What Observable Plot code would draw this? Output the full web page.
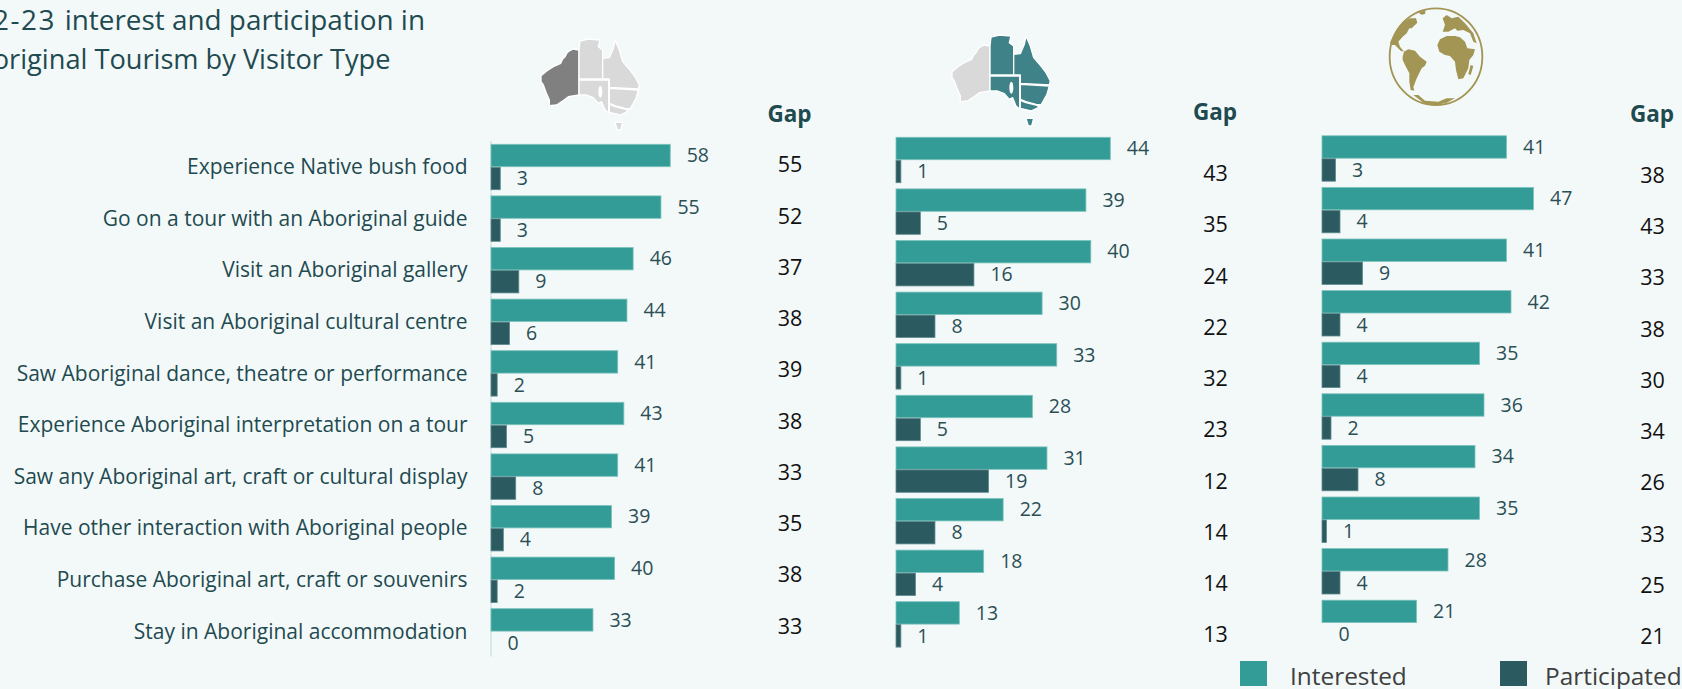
<!DOCTYPE html>
<html><head><meta charset="utf-8">
<script src="https://cdn.jsdelivr.net/npm/d3@7"></script>
<script src="https://cdn.jsdelivr.net/npm/@observablehq/plot@0.6"></script>
<style>
html,body{margin:0;padding:0;background:#f3f9f9;overflow:hidden}
#page{position:relative;width:1682px;height:689px;overflow:hidden;background:#f3f9f9;font-family:"Open Sans",sans-serif}
#page > svg{position:absolute;left:0;top:0;background:transparent!important;overflow:visible}
.abs{position:absolute;white-space:nowrap}
.gap{font-weight:700;font-size:22.5px;color:#1f4a50;transform:translate(-50%,-50%)}
.title{line-height:39px;color:#1f4a50;text-align:right}
.sw{width:27px;height:25px;top:661px}
.lg{top:675px;font-size:24.4px;color:#404040;transform:translateY(-50%)}
</style></head><body>
<div id="page"></div>
<script>
const activities = ["Experience Native bush food","Go on a tour with an Aboriginal guide","Visit an Aboriginal gallery","Visit an Aboriginal cultural centre","Saw Aboriginal dance, theatre or performance","Experience Aboriginal interpretation on a tour","Saw any Aboriginal art, craft or cultural display","Have other interaction with Aboriginal people","Purchase Aboriginal art, craft or souvenirs","Stay in Aboriginal accommodation"];
const series = ["Interested","Participated"];
const colors = ["#339c96","#2b5a60"];
const interested1 = [58,55,46,44,41,43,41,39,40,33];
const participated1 = [3,3,9,6,2,5,8,4,2,0];
const gap1 = [55,52,37,38,39,38,33,35,38,33];
const interested2 = [44,39,40,30,33,28,31,22,18,13];
const participated2 = [1,5,16,8,1,5,19,8,4,1];
const gap2 = [43,35,24,22,32,23,12,14,14,13];
const interested3 = [41,47,41,42,35,36,34,35,28,21];
const participated3 = [3,4,9,4,4,2,8,1,4,0];
const gap3 = [38,43,33,38,30,34,26,33,25,21];

const page = document.getElementById("page");
const W = 1682, H = 689;

function panel({interested, participated, gap, axisX, unit, gapX, top, gapDy, labels}) {
  const rows = activities.flatMap((a,i)=>[
    {a, s:series[0], v:interested[i]},
    {a, s:series[1], v:participated[i]}
  ]);
  const step = 51.6, pad = 0.1085, R = step*(10-pad);
  const marks = [
    Plot.barX(rows,{x:"v",y:"s",fy:"a",fill:"s",stroke:d=>d.s===series[0]?"#7cc2bd":"#5f8a8e",strokeWidth:d=>d.v?0.8:0,insetTop:0.3,insetBottom:0.3}),
    Plot.text(rows,{x:"v",y:"s",fy:"a",text:d=>String(d.v),dx:16,textAnchor:"start",lineAnchor:"middle",fill:"#2b4f55",fontSize:19.5}),
    ...activities.map((a,i)=>Plot.text([{a,g:gap[i]}],{fy:"a",text:d=>String(d.g),frameAnchor:"right",textAnchor:"middle",lineAnchor:"middle",dy:gapDy-i*0.36,fill:"#111",fontSize:21.5}))
  ];
  if (labels) {
    marks.unshift(Plot.ruleX([0],{stroke:"#d6eaec",strokeWidth:2,dx:-0.5,insetTop:-3,insetBottom:-2}));
    marks.push(Plot.axisFy({anchor:"left",tickSize:0,tickPadding:24,fontSize:21,fill:"#1f4a50",label:null}));
  }
  const svg = Plot.plot({
    width:W,height:H,
    marginLeft:axisX,marginRight:W-gapX,marginTop:top,marginBottom:H-top-R,
    x:{axis:null,domain:[0,(gapX-axisX)/unit]},
    y:{axis:null,domain:series,padding:0,round:false},
    fy:{axis:null,domain:activities,paddingInner:pad,paddingOuter:0,round:false},
    color:{domain:series,range:colors},
    style:{background:"transparent",fontFamily:"'Open Sans',sans-serif"},
    marks
  });
  page.appendChild(svg);
}

panel({interested:interested1,participated:participated1,gap:gap1,axisX:491,unit:3.09,gapX:789.5,top:144,gapDy:-2,labels:true});
panel({interested:interested2,participated:participated2,gap:gap2,axisX:896,unit:4.87,gapX:1215,top:137,gapDy:13.7});
panel({interested:interested3,participated:participated3,gap:gap3,axisX:1322,unit:4.5,gapX:1652,top:135.5,gapDy:17});

function add(cls,txt,css){const d=document.createElement("div");d.className="abs "+cls;if(txt)d.innerHTML=txt;Object.assign(d.style,css||{});page.appendChild(d);return d;}
add("title",'<span style="letter-spacing:1.5px">2022-23 </span>interest and participation in',{right:(W-425)+"px",top:"0",fontSize:"27.9px"});
add("title","Aboriginal Tourism by Visitor Type",{right:(W-390.5)+"px",top:"39px",fontSize:"27.2px"});
add("gap","Gap",{left:"789.5px",top:"113px"});
add("gap","Gap",{left:"1215px",top:"111px"});
add("gap","Gap",{left:"1652px",top:"113px"});
add("sw","",{left:"1240px",background:colors[0]});
add("lg",series[0],{left:"1290px"});
add("sw","",{left:"1500px",background:colors[1]});
add("lg",series[1],{left:"1545px"});

// decorative icons
const wa="147,45 130,42 118,48 112,52 105,65 98,72 92,85 70,95 50,108 33,122 33,140 40,150 48,172 58,195 58,212 80,210 95,200 115,185 147,180";
const rest=["150,18 175,12 210,15 205,35 218,45 218,132 147,132 147,45",
"218,70 238,68 250,40 255,15 268,45 278,80 300,105 315,125 328,150 325,162 238,157 238,132 218,132",
"147,135 236,135 236,235 225,225 215,200 205,205 190,188 170,180 147,180",
"238,160 325,165 318,190 300,222 285,220 255,212 238,205",
"238,208 255,215 285,222 295,228 270,240 238,232",
"255,262 278,262 272,285 262,285"];
function ausMap(x,y,wf,rf){
  const s=`<svg class="abs" style="left:${x}px;top:${y}px" width="120" height="100" viewBox="0 0 360 300">`+
   `<g stroke="#fff" stroke-width="4" stroke-linejoin="round"><polygon points="${wa}" fill="${wf}"/>`+
   rest.map(p=>`<polygon points="${p}" fill="${rf}"/>`).join("")+
   `<ellipse cx="211" cy="170" rx="6" ry="18" fill="#fff" stroke="none"/></g></svg>`;
  page.insertAdjacentHTML("beforeend",s);
}
ausMap(530,35,"#808080","#d9d9d9");
ausMap(941,31,"#d9d9d9","#3f8389");
const land=["68,170 72,155 85,148 105,152 120,170 140,185 135,197 125,205 115,225 108,240 100,262 103,272 92,270 88,245 88,220 75,195 68,180",
"172,135 180,118 200,108 225,108 240,112 255,125 262,145 285,148 280,165 268,180 265,205 250,235 235,238 228,210 225,185 210,168 195,165 178,155",
"35,118 50,90 70,65 90,55 108,55 112,68 95,85 88,85 80,100 68,110 55,125 60,140 72,155 62,152 45,135 35,135 30,128",
"188,55 200,45 215,55 235,50 255,70 280,100 290,130 280,125 270,100 250,90 232,92 225,85 205,95 188,95 195,75",
"100,285 115,285 135,302 175,305 200,295 225,295 200,308 170,315 135,312",
"115,38 137,30 135,42 125,44",
"272,195 280,198 272,225 265,222"];
page.insertAdjacentHTML("beforeend",`<svg class="abs" style="left:1380px;top:0" width="120" height="110" viewBox="0 0 360 330"><ellipse cx="168" cy="170" rx="139" ry="145" fill="none" stroke="#a39554" stroke-width="5.5"/>`+land.map(p=>`<polygon points="${p}" fill="#a39554"/>`).join("")+`</svg>`);
</script>
</body></html>
